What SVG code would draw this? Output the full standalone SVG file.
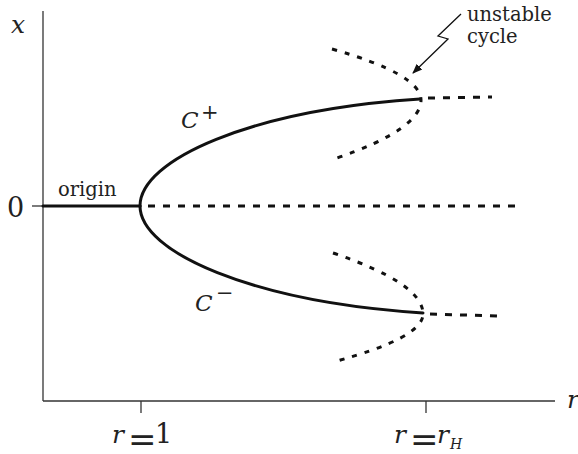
<svg xmlns="http://www.w3.org/2000/svg" width="578" height="454" viewBox="0 0 578 454">
<style>
.axis{stroke:#333;stroke-width:1.3;fill:none}
.solid{stroke:#111;stroke-width:3;fill:none;stroke-linecap:round}
.dash{stroke:#111;stroke-width:3;fill:none;stroke-dasharray:7 8}
.dot{stroke:#111;stroke-width:3;fill:none;stroke-dasharray:5 8}
text{font-family:'DejaVu Serif',serif;fill:#222}
.txt{font-size:19.5px}
.math{font-size:25px}
.num{font-size:27px}
.eq{font-size:34px;font-style:normal}
.it{font-style:italic}
</style>
<defs>
<marker id="ah" viewBox="0 0 10 10" refX="9" refY="5" markerWidth="10" markerHeight="10" markerUnits="userSpaceOnUse" orient="auto">
<path d="M0,1 L10,5 L0,9 Z" fill="#111"/>
</marker>
</defs>
<g id="axes">
<line class="axis" x1="43" y1="11" x2="43" y2="401"/>
<line class="axis" x1="43" y1="401" x2="555" y2="401"/>
<line class="axis" x1="141" y1="401" x2="141" y2="413"/>
<line class="axis" x1="426" y1="401" x2="426" y2="413"/>
<line class="axis" x1="32" y1="206" x2="43" y2="206"/>
</g>
<g id="connectors">
<path id="origin-branch" class="solid" d="M43,206 L140,206"/>
<path id="origin-unstable" class="dash" d="M148,206 L522,206"/>
<path id="c-plus" class="solid" d="M140,206 C140,160 250,110 420,99"/>
<path id="c-minus" class="solid" d="M140,206 C140,252 252,302 423,313"/>
<path id="c-plus-unstable" class="dash" d="M428,98 L492,97"/>
<path id="c-minus-unstable" class="dash" d="M430,314 L498,316"/>
<path id="cycle-upper" class="dot" d="M332,49 Q421,74.5 421,100 Q421,129 337,158"/>
<path id="cycle-lower" class="dot" d="M333,253 Q423,283.5 423,314 Q423,338 333,362"/>
<path id="pointer" stroke="#111" stroke-width="1.3" fill="none" d="M461,14 L438,36 L448,39 L413,73" marker-end="url(#ah)"/>
</g>
<g id="labels">
<text class="math it" x="11" y="33">x</text>
<text class="num" x="7" y="217">0</text>
<text class="math it" x="567" y="408">r</text>
<text id="origin-label" class="txt" x="58" y="196">origin</text>
<text id="cplus-label" font-size="23"><tspan class="it" x="181" y="128">C</tspan><tspan font-size="21" x="201" y="119">+</tspan></text>
<text id="cminus-label" font-size="23"><tspan class="it" x="195" y="311">C</tspan><tspan font-size="21" x="216" y="300">−</tspan></text>
<text id="unstable-label" class="txt"><tspan x="467" y="21">unstable</tspan><tspan x="467" y="43">cycle</tspan></text>
<text id="r1-label" class="math"><tspan class="it" x="112" y="443">r</tspan><tspan class="eq" x="128" y="451">=</tspan><tspan class="num" x="155" y="443">1</tspan></text>
<text id="rH-label" class="math"><tspan class="it" x="394" y="443">r</tspan><tspan class="eq" x="410" y="451">=</tspan><tspan class="it" x="437" y="443">r</tspan><tspan class="it" font-size="14" x="450" y="449">H</tspan></text>
</g>
</svg>
